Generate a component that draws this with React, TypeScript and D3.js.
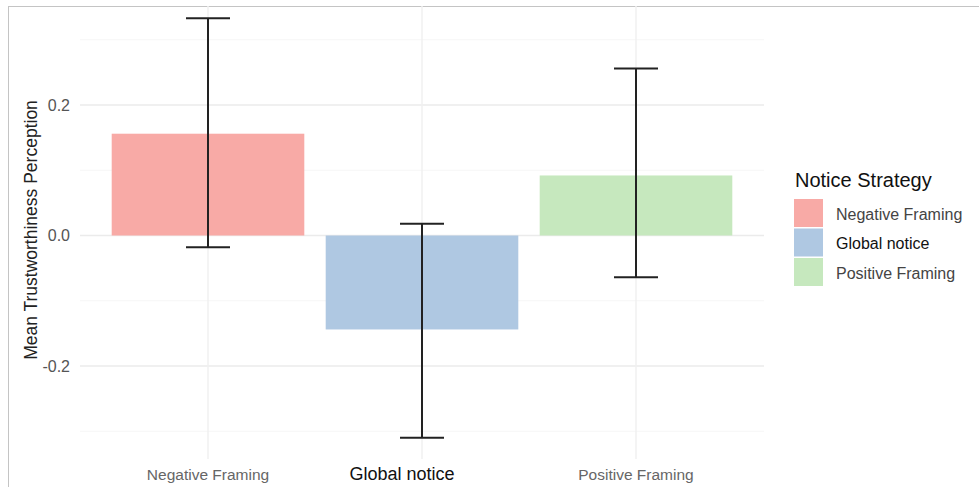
import * as d3 from "d3";

const categories = ["Negative Framing", "Global notice", "Positive Framing"];
const means = [0.156, -0.144, 0.092];
const lowers = [-0.018, -0.31, -0.064];
const uppers = [0.333, 0.018, 0.256];
const colors = ["#F8AAA6", "#AFC8E2", "#C6E8BE"];
const majorTicks = [-0.2, 0.0, 0.2];
const minorTicks = [-0.3, -0.1, 0.1, 0.3];

const W = 979;
const H = 487;

export default function App() {
  const x = d3.scaleBand().domain(categories).range([101, 743]).paddingInner(0.1).paddingOuter(0.05);
  const y = d3.scaleLinear().domain([-0.2, 0.2]).range([366, 105]);
  const panelLeft = 80;
  const panelRight = 764;
  const panelTop = 6;
  const panelBottom = 459;
  const capHalf = 22;
  const fmt = (t: number) => d3.format(".1f")(t).replace("\u2212", "-");

  return (
    <svg
      width={W}
      height={H}
      style={{ position: "absolute", left: 0, top: 0, background: "#fff" }}
      fontFamily="Liberation Sans, Arial, sans-serif"
    >
      {/* frame of the screenshot */}
      <line x1={8} x2={W} y1={6.5} y2={6.5} stroke="#c4c4c4" />
      <line x1={8.5} x2={8.5} y1={6} y2={H} stroke="#c4c4c4" />

      {/* grid */}
      {minorTicks.map((t) => (
        <line key={"mn" + t} x1={panelLeft} x2={panelRight} y1={y(t)} y2={y(t)} stroke="#f6f6f6" strokeWidth={1} />
      ))}
      {majorTicks.map((t) => (
        <line key={"mj" + t} x1={panelLeft} x2={panelRight} y1={y(t)} y2={y(t)} stroke="#ebebeb" strokeWidth={1.5} />
      ))}
      {categories.map((c) => (
        <line
          key={"vg" + c}
          x1={x(c)! + x.bandwidth() / 2}
          x2={x(c)! + x.bandwidth() / 2}
          y1={panelTop}
          y2={panelBottom}
          stroke="#f0f0f0"
          strokeWidth={1.5}
        />
      ))}

      {/* bars */}
      {categories.map((c, i) => (
        <rect
          key={"b" + c}
          x={x(c)!}
          width={x.bandwidth()}
          y={y(Math.max(0, means[i]))}
          height={Math.abs(y(means[i]) - y(0))}
          fill={colors[i]}
        />
      ))}

      {/* error bars */}
      {categories.map((c, i) => {
        const cx = x(c)! + x.bandwidth() / 2;
        return (
          <g key={"e" + c} stroke="#222" strokeWidth={2}>
            <line x1={cx} x2={cx} y1={y(uppers[i])} y2={y(lowers[i])} />
            <line x1={cx - capHalf} x2={cx + capHalf} y1={y(uppers[i])} y2={y(uppers[i])} />
            <line x1={cx - capHalf} x2={cx + capHalf} y1={y(lowers[i])} y2={y(lowers[i])} />
          </g>
        );
      })}

      {/* y tick labels */}
      {majorTicks.map((t) => (
        <text key={"yt" + t} x={70} y={y(t)} dy="0.35em" textAnchor="end" fontSize={16} fill="#555">
          {fmt(t)}
        </text>
      ))}

      {/* y axis title */}
      <text
        transform={`translate(37, ${(90 + 370) / 2}) rotate(-90)`}
        textAnchor="middle"
        fontSize={17.5}
        fill="#222"
      >
        Mean Trustworthiness Perception
      </text>

      {/* x tick labels (the middle one sits a little left in the source) */}
      {categories.map((c, i) => (
        <text
          key={"xt" + c}
          x={x(c)! + x.bandwidth() / 2 + (i === 1 ? -20 : 0)}
          y={480}
          textAnchor="middle"
          fontSize={i === 1 ? 18 : 15.5}
          fill={i === 1 ? "#111" : "#666"}
        >
          {c}
        </text>
      ))}

      {/* legend */}
      <text x={795} y={187} fontSize={20} fill="#111">
        Notice Strategy
      </text>
      {categories.map((c, i) => (
        <g key={"lg" + c} transform={`translate(794, ${199 + i * 29.5})`}>
          <rect width={29} height={28} fill={colors[i]} />
          <text x={42} y={15} dy="0.35em" fontSize={16} fill={i === 1 ? "#111" : "#444"}>
            {c}
          </text>
        </g>
      ))}
    </svg>
  );
}
